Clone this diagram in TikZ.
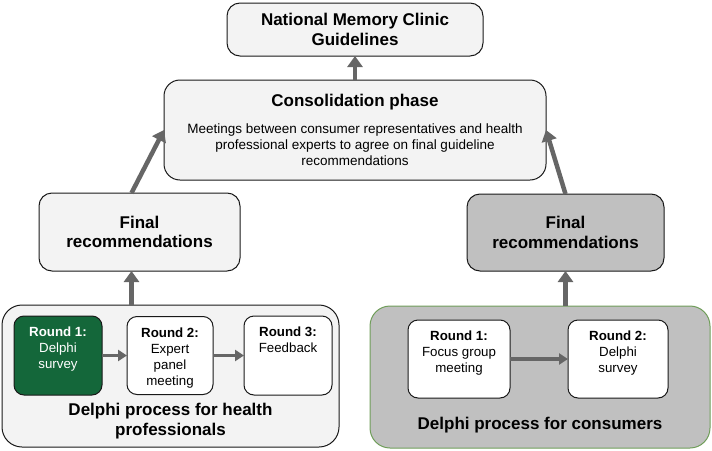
\documentclass[tikz,border=0pt]{standalone}
\usepackage{fontspec}
\setmainfont{Liberation Sans}
\usepackage{xcolor}
\usetikzlibrary{arrows.meta,positioning}

\definecolor{boxgrey}{HTML}{F3F3F3}
\definecolor{midgrey}{HTML}{C0C0C0}
\definecolor{arrowgrey}{HTML}{666666}
\definecolor{delphigreen}{RGB}{20,103,58}
\definecolor{edgegreen}{RGB}{112,158,90}

\tikzset{
    box/.style={draw=black!90, line width=1pt, rounded corners=13pt,
        inner sep=0pt, outer sep=0pt, align=center},
    bigtxt/.style={font=\bfseries\fontsize{17}{19.5}\selectfont, align=center},
    roundbox/.style={box, fill=white, rounded corners=10pt},
    roundtxt/.style={anchor=north, align=center, inner sep=0pt,
        font=\fontsize{13.3}{16}\selectfont},
    uparrow/.style={draw=arrowgrey, line width=4.5pt,
        -{Triangle[length=11pt,width=15pt]}},
    sidearrow/.style={draw=arrowgrey, line width=3.5pt,
        -{Triangle[length=9pt,width=11pt]}},
}

\begin{document}
\begin{tikzpicture}[x=1pt,y=-1pt]
    \useasboundingbox (0,0) rectangle (712,450);

    % Guidelines
    \node[box, bigtxt, fill=boxgrey, minimum width=256pt, minimum height=53pt]
        (nmc) at (355,29.5) {National Memory Clinic\\Guidelines};

    % Consolidation
    \node[box, fill=boxgrey, rounded corners=16pt, minimum width=382pt, minimum height=100pt,
        font=\fontsize{13.5}{16}\selectfont] (cons) at (355,130)
        {{\bfseries\fontsize{17}{20}\selectfont Consolidation phase}\\[11pt]
         Meetings between consumer representatives and health\\
         professional experts to agree on final guideline\\
         recommendations};

    % Final recommendations
    \node[box, bigtxt, fill=boxgrey, minimum width=201pt, minimum height=78pt]
        (finl) at (139.5,232) {Final\\recommendations};
    \node[box, bigtxt, fill=midgrey, minimum width=197pt, minimum height=77pt]
        (finr) at (565.5,232.5) {Final\\recommendations};

    % Health professionals
    \begin{scope}
        % Panel
        \node[box, fill=boxgrey, rounded corners=20pt, minimum width=337pt, minimum height=142pt]
            (hp) at (170.5,376) {};
        \node[bigtxt, inner sep=0pt] (hplbl) at (170.5,421) {Delphi process for health\\professionals};

        % Rounds
        \node[roundbox, fill=delphigreen, minimum width=88pt, minimum height=79pt] (hp1) at (58,355.5) {};
        \node[roundbox, minimum width=86pt, minimum height=78pt] (hp2) at (170,355.5) {};
        \node[roundbox, minimum width=88pt, minimum height=79pt] (hp3) at (288,355.5) {};

        \node[roundtxt, text=white] (hp1txt) at ([yshift=-11pt]hp1.north) {\textbf{Round 1:}\\Delphi\\survey};
        \node[roundtxt] (hp2txt) at ([yshift=-11pt]hp2.north) {\textbf{Round 2:}\\Expert\\panel\\meeting};
        \node[roundtxt] (hp3txt) at ([yshift=-11pt]hp3.north) {\textbf{Round 3:}\\Feedback};
    \end{scope}

    % Consumers
    \begin{scope}
        % Panel
        \node[box, draw=edgegreen, fill=midgrey, rounded corners=20pt, minimum width=340pt, minimum height=142pt]
            (co) at (540,377) {};
        \node[bigtxt, inner sep=0pt] (colbl) at (540,425) {Delphi process for consumers};

        % Rounds
        \node[roundbox, minimum width=102pt, minimum height=78pt] (co1) at (459,359) {};
        \node[roundbox, minimum width=100pt, minimum height=78pt] (co2) at (618,359) {};

        \node[roundtxt] (co1txt) at ([yshift=-11pt]co1.north) {\textbf{Round 1:}\\Focus group\\meeting};
        \node[roundtxt] (co2txt) at ([yshift=-11pt]co2.north) {\textbf{Round 2:}\\Delphi\\survey};
    \end{scope}

    % Arrows
    \foreach \a/\b in {hp1/hp2,hp2/hp3,co1/co2} {
        \draw[sidearrow] (\a) -- (\b);
    }
    \draw[uparrow] ([xshift=-8pt]finl.south |- hp.north) -- ([xshift=-8pt]finl.south);
    \draw[uparrow] (finr.south |- co.north) -- (finr.south);
    \draw[uparrow] ([xshift=-8pt]finl.north) -- (cons.west);
    \draw[uparrow] (finr.north) -- (cons.east);
    \draw[uparrow] (cons) -- (nmc);

\end{tikzpicture}
\end{document}
